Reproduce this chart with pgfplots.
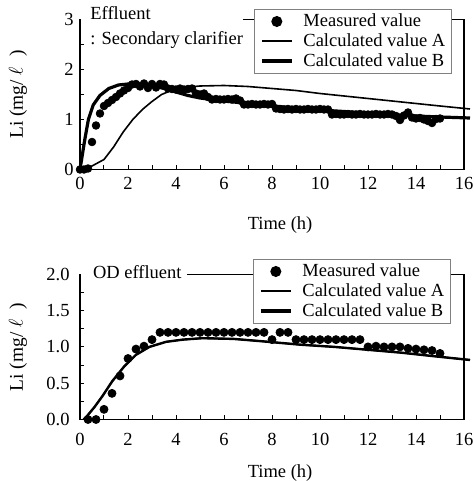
\documentclass[border=0pt]{standalone}
\usepackage{fontspec}
\setmainfont{Liberation Serif}
\usepackage{pgfplots}
\pgfplotsset{compat=1.18}
\newcommand{\cfont}{\fontsize{9.25}{11}\selectfont}
\pgfplotsset{
  myax/.style={
    scale only axis, width=192pt,
    xmin=0, xmax=16, xtick={0,2,...,16}, minor x tick num=1,
    tick align=inside, tick pos=left,
    major tick length=2pt, minor tick length=2pt,
    every tick/.style={black, line width=0.5pt},
    axis line style={line width=0.6pt},
    every tick label/.append style={font=\cfont},
    /pgf/number format/assume math mode=true,
    label style={font=\cfont},
    xlabel={Time (h)},
    ylabel={Li (mg/\hspace{2.5pt}$\ell$\hspace{5pt})},
    ylabel style={at={(axis description cs:-0.1615,0.5)}, anchor=center, font=\fontsize{9.7}{11}\selectfont},
    clip=false,
    legend cell align=left,
    legend style={draw=gray, line width=0.5pt, fill=white, font=\cfont,
      anchor=north east, inner xsep=3pt, inner ysep=1.2pt, row sep=0pt,
      /tikz/column sep=5pt,
      nodes={inner xsep=0pt, inner ysep=0pt, text height=7.5pt, text depth=2.4pt}},
    legend image code/.code={\draw[mark repeat=2,mark phase=2,#1] plot coordinates {(0pt,0pt)(7.5pt,0pt)(15pt,0pt)};},
    meas/.style={only marks, mark=*, mark size=1.9pt, black, legend image post style={mark size=2.5pt}},
    calcA/.style={black, line width=0.8pt, mark=none},
    calcB/.style={black, line width=1.6pt, mark=none},
  }
}
\begin{document}
\begin{tikzpicture}
\useasboundingbox (0,0) rectangle (236.5pt,240.5pt);
% ---------------- top ----------------
\begin{axis}[myax, name=top, at={(40pt,155.75pt)}, anchor=south west,
  height=75pt, ymin=0, ymax=3, ytick={0,1,2,3}, minor y tick num=1,
  xticklabel style={anchor=base, yshift=-9.9pt},
  yticklabel style={inner xsep=0pt, xshift=-3pt},
  xlabel style={at={(axis description cs:0.521,-0.403)}, anchor=base},
  legend style={at={(1,1)}, xshift=-6.15pt, yshift=5.4pt}]
\addplot[meas] coordinates {(0,0) (0.167,0) (0.333,0.02) (0.5,0.55) (0.667,0.88) (0.833,1.12) (1.0,1.27) (1.167,1.33) (1.333,1.39) (1.5,1.45) (1.667,1.52) (1.833,1.58) (2.0,1.63) (2.167,1.70) (2.333,1.71) (2.5,1.66) (2.667,1.72) (2.833,1.63) (3.0,1.71) (3.167,1.64) (3.333,1.71) (3.5,1.70) (3.667,1.62) (3.833,1.61) (4.0,1.60) (4.167,1.62) (4.333,1.60) (4.5,1.61) (4.667,1.62) (4.833,1.52) (5.0,1.50) (5.167,1.52) (5.333,1.45) (5.5,1.40) (5.667,1.41) (5.833,1.40) (6.0,1.40) (6.167,1.41) (6.333,1.40) (6.5,1.42) (6.667,1.38) (6.833,1.30) (7.0,1.30) (7.167,1.31) (7.333,1.30) (7.5,1.30) (7.667,1.31) (7.833,1.30) (8.0,1.31) (8.167,1.22) (8.333,1.21) (8.5,1.20) (8.667,1.21) (8.833,1.20) (9.0,1.21) (9.167,1.20) (9.333,1.20) (9.5,1.21) (9.667,1.20) (9.833,1.20) (10.0,1.21) (10.167,1.20) (10.333,1.20) (10.5,1.10) (10.667,1.11) (10.833,1.10) (11.0,1.10) (11.167,1.11) (11.333,1.10) (11.5,1.10) (11.667,1.11) (11.833,1.10) (12.0,1.10) (12.167,1.10) (12.333,1.11) (12.5,1.10) (12.667,1.10) (12.833,1.11) (13.0,1.10) (13.167,1.07) (13.333,0.99) (13.5,1.08) (13.667,1.14) (13.833,1.04) (14.0,1.02) (14.167,1.03) (14.333,1.00) (14.5,0.97) (14.667,0.93) (14.833,1.01) (15.0,1.02)};
\addlegendentry{Measured value}
\addplot[calcA] coordinates {(0,0) (0.5,0.07) (1.0,0.2) (1.4,0.45) (1.8,0.75) (2.2,1.0) (2.6,1.2) (3.0,1.36) (3.4,1.5) (3.8,1.58) (4.3,1.64) (5,1.67) (6,1.68) (7,1.66) (8,1.62) (9,1.58) (10,1.52) (11,1.47) (12,1.42) (13,1.37) (14,1.32) (15,1.27) (16.25,1.21)};
\addlegendentry{Calculated value A}
\addplot[calcB] coordinates {(0,0) (0.1,0.3) (0.2,0.6) (0.35,1.0) (0.55,1.29) (0.83,1.48) (1.2,1.62) (1.6,1.69) (2.0,1.71) (2.5,1.71) (3.0,1.68) (3.5,1.62) (4.0,1.55) (4.5,1.48) (5.0,1.43) (5.5,1.4) (6,1.37) (7,1.32) (8,1.27) (9,1.23) (10,1.19) (11,1.16) (12,1.13) (13,1.1) (14,1.07) (15,1.05) (16.25,1.03)};
\addlegendentry{Calculated value B}
\end{axis}
\fill[white] (40.6pt,229.3pt) rectangle (121.5pt,232.2pt);
\node[anchor=base west, inner sep=0pt, font=\cfont] at (45pt,230.5pt) {Effluent};
\node[anchor=base west, inner sep=0pt, font=\cfont] at (45pt,218.3pt) {: Secondary clarifier};
% ---------------- bottom ----------------
\begin{axis}[myax, name=bot, at={(40pt,30.75pt)}, anchor=south west,
  height=72.6pt, ymin=0, ymax=2, ytick={0,0.5,1,1.5,2}, minor y tick num=1,
  yticklabel style={/pgf/number format/fixed, /pgf/number format/fixed zerofill, /pgf/number format/precision=1},
  yticklabel style={inner xsep=0pt, xshift=-5pt},
  xticklabel style={anchor=base, yshift=-13.1pt},
  xlabel style={at={(axis description cs:0.521,-0.398)}, anchor=base},
  legend style={at={(1,1)}, xshift=-6.65pt, yshift=7.8pt}]
\addplot[meas, mark size=2pt] coordinates {(0.333,0) (0.667,0) (1.0,0.14) (1.333,0.36) (1.667,0.60) (2.0,0.84) (2.333,0.97) (2.667,1.01) (3.0,1.10) (3.333,1.20) (3.667,1.20) (4.0,1.20) (4.333,1.20) (4.667,1.20) (5.0,1.20) (5.333,1.20) (5.667,1.20) (6.0,1.20) (6.333,1.20) (6.667,1.20) (7.0,1.20) (7.333,1.20) (7.667,1.20) (8.0,1.10) (8.333,1.20) (8.667,1.20) (9.0,1.10) (9.333,1.10) (9.667,1.10) (10.0,1.10) (10.333,1.10) (10.667,1.10) (11.0,1.10) (11.333,1.10) (11.667,1.10) (12.0,1.00) (12.333,1.01) (12.667,1.00) (13.0,1.00) (13.333,1.00) (13.667,0.98) (14.0,0.97) (14.333,0.96) (14.667,0.95) (15.0,0.91)};
\addlegendentry{Measured value}
\addplot[calcA] coordinates {(0.15,0) (0.3,0.05) (0.6,0.17) (0.93,0.32) (1.35,0.53) (1.84,0.73) (2.33,0.89) (2.89,1.0) (3.59,1.07) (4.28,1.1) (5.1,1.12) (6.4,1.11) (7.5,1.08) (9.2,1.03) (10.6,1.0) (12,0.96) (13.4,0.92) (14.8,0.87) (16.25,0.82)};
\addlegendentry{Calculated value A}
\addplot[calcB, line width=1.2pt, legend image post style={line width=1.6pt}] coordinates {(0.15,0) (0.3,0.05) (0.6,0.17) (0.93,0.32) (1.35,0.53) (1.84,0.73) (2.33,0.89) (2.89,1.0) (3.59,1.07) (4.28,1.1) (5.1,1.12) (6.4,1.11) (7.5,1.08) (9.2,1.03) (10.6,1.0) (12,0.96) (13.4,0.92) (14.8,0.87) (16.25,0.82)};
\addlegendentry{Calculated value B}
\end{axis}
\fill[white] (40.6pt,101.9pt) rectangle (93.5pt,104.8pt);
\node[anchor=base west, inner sep=0pt, font=\cfont] at (46.3pt,101.3pt) {OD effluent};
\end{tikzpicture}
\end{document}
